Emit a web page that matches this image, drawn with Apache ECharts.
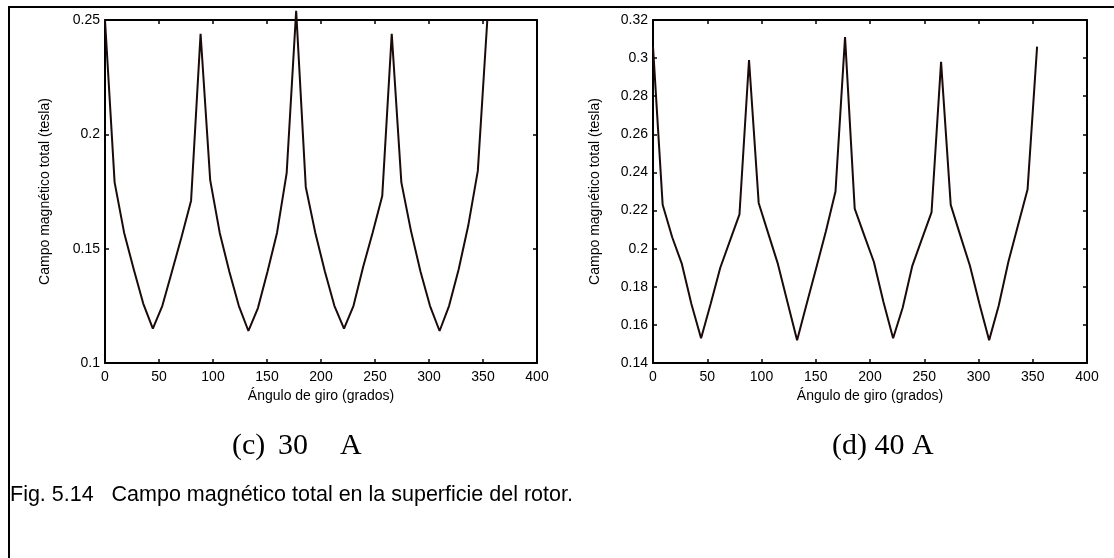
<!DOCTYPE html>
<html><head><meta charset="utf-8">
<script src="https://cdn.jsdelivr.net/npm/echarts/dist/echarts.min.js"></script>
<style>html,body{margin:0;padding:0;background:#fff}#c{width:1114px;height:558px}</style>
</head><body><div id="c"></div><script>
// Rotation angle (degrees)
const angles = [0, 8.9, 17.7, 26.6, 35.4, 44.3, 53.1, 62.0, 70.8, 79.7, 88.5, 97.4, 106.2, 115.1, 123.9, 132.8, 141.6, 150.5, 159.3, 168.2, 177.0, 185.9, 194.7, 203.6, 212.4, 221.3, 230.1, 239.0, 247.8, 256.7, 265.5, 274.4, 283.2, 292.1, 300.9, 309.8, 318.6, 327.5, 336.3, 345.2, 354.0];
// (c) 30 A total magnetic field (tesla)
const field30A = [0.250, 0.179, 0.157, 0.141, 0.126, 0.115, 0.125, 0.140, 0.155, 0.171, 0.244, 0.180, 0.157, 0.140, 0.125, 0.114, 0.124, 0.140, 0.157, 0.183, 0.254, 0.177, 0.157, 0.140, 0.125, 0.115, 0.125, 0.142, 0.157, 0.173, 0.244, 0.179, 0.158, 0.140, 0.125, 0.114, 0.125, 0.141, 0.160, 0.184, 0.250];
// (d) 40 A total magnetic field (tesla)
const field40A = [0.306, 0.223, 0.206, 0.192, 0.171, 0.153, 0.171, 0.190, 0.204, 0.218, 0.299, 0.224, 0.208, 0.192, 0.172, 0.152, 0.171, 0.190, 0.209, 0.230, 0.311, 0.221, 0.207, 0.193, 0.172, 0.153, 0.169, 0.191, 0.205, 0.219, 0.298, 0.223, 0.207, 0.191, 0.171, 0.152, 0.170, 0.193, 0.212, 0.231, 0.306];
const xTicks = {min: 0, max: 400, interval: 50};
const yTicks30 = {min: 0.1, max: 0.25, interval: 0.05};
const yTicks40 = {min: 0.14, max: 0.32, interval: 0.02};
const xTitle = 'Ángulo de giro (grados)';
const yTitle = 'Campo magnético total (tesla)';
const subTitles = ['(c)', '30', 'A', '(d) 40 A'];
const caption = 'Fig. 5.14   Campo magnético total en la superficie del rotor.';

const SANS = 'Liberation Sans, Arial, sans-serif';
const SERIF = 'Liberation Serif, Times New Roman, serif';
const lineCol = '#000';

function xAxes(g) {
  const base = {gridIndex: g, type: 'value', min: xTicks.min, max: xTicks.max, interval: xTicks.interval,
    splitLine: {show: false},
    axisLine: {show: true, onZero: false, lineStyle: {color: lineCol, width: 2}},
    axisTick: {show: true, inside: true, length: 4, lineStyle: {color: lineCol, width: 1.5}}};
  return [
    Object.assign({}, base, {position: 'bottom',
      axisLabel: {color: '#000', fontSize: 14, fontFamily: SANS, margin: 7},
      name: xTitle, nameLocation: 'middle', nameGap: 25,
      nameTextStyle: {color: '#000', fontSize: 14, fontFamily: SANS}}),
    Object.assign({}, base, {position: 'top', axisLabel: {show: false}})
  ];
}
function yAxes(g, t, gap) {
  const base = {gridIndex: g, type: 'value', min: t.min, max: t.max, interval: t.interval,
    splitLine: {show: false},
    axisLine: {show: true, onZero: false, lineStyle: {color: lineCol, width: 2}},
    axisTick: {show: true, inside: true, length: 4, lineStyle: {color: lineCol, width: 1.5}}};
  return [
    Object.assign({}, base, {position: 'left',
      axisLabel: {color: '#000', fontSize: 14, fontFamily: SANS, margin: 5},
      name: yTitle, nameLocation: 'middle', nameGap: gap, nameRotate: 90,
      nameTextStyle: {color: '#000', fontSize: 14, fontFamily: SANS}}),
    Object.assign({}, base, {position: 'right', axisLabel: {show: false}})
  ];
}

const chart = echarts.init(document.getElementById('c'), null, {renderer: 'canvas'});
chart.setOption({
  animation: false,
  backgroundColor: '#fff',
  grid: [
    {left: 105, top: 20, width: 432, height: 343},
    {left: 653, top: 20, width: 434, height: 343}
  ],
  xAxis: [...xAxes(0), ...xAxes(1)],
  yAxis: [...yAxes(0, yTicks30, 53), ...yAxes(1, yTicks40, 51)],
  series: [
    {type: 'line', xAxisIndex: 0, yAxisIndex: 0, symbol: 'none', clip: false,
     data: angles.map((a, i) => [a, field30A[i]]),
     lineStyle: {color: '#1a0a0a', width: 2}},
    {type: 'line', xAxisIndex: 2, yAxisIndex: 2, symbol: 'none', clip: false,
     data: angles.map((a, i) => [a, field40A[i]]),
     lineStyle: {color: '#1a0a0a', width: 2}}
  ],
  graphic: [
    {type: 'rect', shape: {x: 9, y: 7, width: 1300, height: 800}, style: {fill: 'none', stroke: '#000', lineWidth: 2}, silent: true},
    {type: 'text', left: 232, top: 431, style: {text: subTitles[0], font: '30px ' + SERIF, fill: '#000'}},
    {type: 'text', left: 278, top: 431, style: {text: subTitles[1], font: '30px ' + SERIF, fill: '#000'}},
    {type: 'text', left: 340, top: 431, style: {text: subTitles[2], font: '30px ' + SERIF, fill: '#000'}},
    {type: 'text', left: 832, top: 431, style: {text: subTitles[3], font: '30px ' + SERIF, fill: '#000'}},
    {type: 'text', left: 10, top: 484, style: {text: caption, font: '21.5px ' + SANS, fill: '#000'}}
  ]
});
</script></body></html>
